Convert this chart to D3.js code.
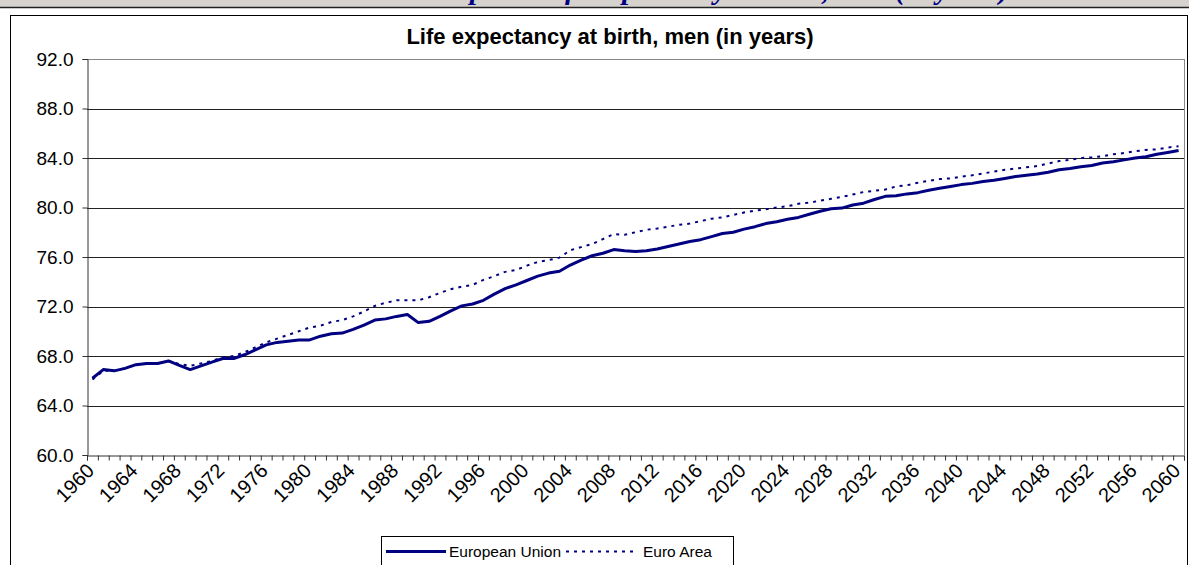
<!DOCTYPE html>
<html>
<head>
<meta charset="utf-8">
<script src="https://cdn.jsdelivr.net/npm/d3@7"></script>
<style>
  html, body { margin: 0; padding: 0; background: #fff; }
  svg { display: block; font-family: Arial, "Liberation Sans", sans-serif; }
</style>
</head>
<body>
<svg id="chart" width="1189" height="565"></svg>
<script>
// Data
var years = d3.range(1960, 2061);

var europeanUnion = [
  66.2, 66.9, 66.8, 67.0, 67.3, 67.4, 67.4, 67.6, 67.25, 66.9,
  67.2, 67.5, 67.8, 67.8, 68.1, 68.5, 68.9, 69.1, 69.2, 69.3,
  69.3, 69.6, 69.8, 69.85, 70.15, 70.5, 70.9, 71.0, 71.2, 71.35,
  70.7, 70.8, 71.2, 71.65, 72.05, 72.2, 72.5, 73.0, 73.45, 73.75,
  74.1, 74.45, 74.7, 74.85, 75.35, 75.75, 76.1, 76.3, 76.6, 76.5,
  76.45, 76.5, 76.65, 76.85, 77.05, 77.25, 77.4, 77.65, 77.9, 78.0,
  78.25, 78.45, 78.7, 78.85, 79.05, 79.2, 79.45, 79.7, 79.9, 79.95,
  80.2, 80.35, 80.65, 80.9, 80.95, 81.1, 81.2, 81.4, 81.55, 81.7,
  81.85, 81.95, 82.1, 82.2, 82.35, 82.5, 82.6, 82.7, 82.85, 83.05,
  83.15, 83.3, 83.4, 83.6, 83.7, 83.85, 84.0, 84.1, 84.3, 84.45,
  84.6
];

var euroArea = [
  66.1, 66.8, 66.8, 67.0, 67.3, 67.4, 67.4, 67.6, 67.35, 67.2,
  67.4, 67.6, 67.9, 68.0, 68.3, 68.7, 69.1, 69.4, 69.7, 70.0,
  70.3, 70.45, 70.75, 70.9, 71.2, 71.6, 72.05, 72.3, 72.5, 72.5,
  72.5, 72.75, 73.1, 73.4, 73.6, 73.75, 74.15, 74.45, 74.8, 74.95,
  75.3, 75.6, 75.75, 75.95, 76.55, 76.8, 77.05, 77.45, 77.85, 77.8,
  78.0, 78.2, 78.3, 78.45, 78.6, 78.7, 78.9, 79.1, 79.2, 79.4,
  79.6, 79.75, 79.85, 80.0, 80.1, 80.3, 80.4, 80.55, 80.7, 80.85,
  81.05, 81.25, 81.35, 81.45, 81.7, 81.8, 82.0, 82.15, 82.3, 82.35,
  82.5, 82.6, 82.75, 82.9, 83.05, 83.15, 83.25, 83.35, 83.55, 83.75,
  83.85, 84.0, 84.05, 84.15, 84.3, 84.4, 84.55, 84.65, 84.7, 84.85,
  84.95
];

var yTicks = [60, 64, 68, 72, 76, 80, 84, 88, 92];
var xLabelYears = years.filter(function(d) { return (d - 1960) % 4 === 0; });

var seriesNames = ["European Union", "Euro Area"];

// Layout
var svg = d3.select("#chart");
var plot = {left: 87, right: 1184, top: 59, bottom: 455};
var navy = "#000080";

// Top strip (page heading, cut off by the crop)
svg.append("rect")
    .attr("x", 0).attr("y", 0)
    .attr("width", 1189).attr("height", 7)
    .attr("fill", "#d6d3ce");
svg.append("text")
    .attr("x", 716).attr("y", -1)
    .attr("text-anchor", "middle")
    .style("font-family", "'Liberation Serif', 'DejaVu Serif', serif")
    .style("font-weight", "bold")
    .style("font-style", "italic")
    .style("font-size", "29px")
    .attr("fill", navy)
    .text("Graph 4: Life expectancy at birth, men (in years)");
svg.append("line")
    .attr("x1", 0).attr("x2", 1189)
    .attr("y1", 7.5).attr("y2", 7.5)
    .attr("stroke", "#222").attr("stroke-width", 1.5);

// Chart area border
svg.append("rect")
    .attr("x", 10.5).attr("y", 15.5)
    .attr("width", 1177).attr("height", 600)
    .attr("fill", "#fff")
    .attr("stroke", "#000");

// Title
svg.append("text")
    .attr("x", 610).attr("y", 44)
    .attr("text-anchor", "middle")
    .style("font-weight", "bold")
    .style("font-size", "22px")
    .text("Life expectancy at birth, men (in years)");

// Scales
var x = d3.scaleLinear()
    .domain([1959.5, 2060.5])
    .range([plot.left, plot.right]);

var y = d3.scaleLinear()
    .domain([60, 92])
    .range([plot.bottom, plot.top]);

// Gridlines
svg.append("g")
    .selectAll("line")
    .data(yTicks.slice(1))
    .enter()
    .append("line")
    .attr("x1", plot.left).attr("x2", plot.right)
    .attr("y1", (d) => Math.round(y(d)) + 0.5)
    .attr("y2", (d) => Math.round(y(d)) + 0.5)
    .attr("stroke", (d) => d === 92 ? "#888" : "#222");

// Right border of plot area
svg.append("line")
    .attr("x1", plot.right + 0.5).attr("x2", plot.right + 0.5)
    .attr("y1", plot.top).attr("y2", plot.bottom)
    .attr("stroke", "#888");

// Y axis
var yAxis = svg.append("g")
    .attr("transform", "translate(" + (plot.left + 0.5) + ",0)")
    .call(d3.axisLeft(y).tickValues(yTicks).tickSize(5).tickPadding(9)
        .tickFormat(d3.format(".1f")));
yAxis.select(".domain").attr("stroke", "#333");
yAxis.selectAll(".tick line").attr("stroke", "#333");
yAxis.selectAll("text")
    .style("font-size", "19px")
    .style("font-family", "Arial, 'Liberation Sans', sans-serif")
    .attr("fill", "#000");

// X axis: tick marks between categories
var xAxis = svg.append("g")
    .attr("transform", "translate(0," + (plot.bottom + 0.5) + ")")
    .call(d3.axisBottom(x)
        .tickValues(years.map((d) => d - 0.5).concat([2060.5]))
        .tickSize(5)
        .tickFormat(""));
xAxis.select(".domain").attr("stroke", "#333");
xAxis.selectAll(".tick line").attr("stroke", "#333");

// X labels every 4 years, rotated
svg.append("g")
    .selectAll("text")
    .data(xLabelYears)
    .enter()
    .append("text")
    .attr("transform", (d) => "translate(" + (x(d) - 2) + "," + (plot.bottom + 12) + ") rotate(-45)")
    .attr("text-anchor", "end")
    .attr("dy", "0.35em")
    .style("font-size", "20px")
    .text((d) => d);

// Lines
var line = d3.line()
    .x((d, i) => x(years[i]))
    .y((d) => y(d));

svg.append("path")
    .datum(euroArea)
    .attr("fill", "none")
    .attr("stroke", navy)
    .attr("stroke-width", 2)
    .attr("stroke-dasharray", "3,5")
    .attr("d", line);

svg.append("path")
    .datum(europeanUnion)
    .attr("fill", "none")
    .attr("stroke", navy)
    .attr("stroke-width", 3)
    .attr("stroke-linejoin", "round")
    .attr("d", line);

// Legend
var legend = svg.append("g");
legend.append("rect")
    .attr("x", 381.5).attr("y", 536.5)
    .attr("width", 352).attr("height", 40)
    .attr("fill", "#fff")
    .attr("stroke", "#000");
legend.append("line")
    .attr("x1", 386).attr("x2", 446)
    .attr("y1", 551.5).attr("y2", 551.5)
    .attr("stroke", navy).attr("stroke-width", 3);
legend.append("text")
    .attr("x", 449).attr("y", 557)
    .style("font-size", "15.5px")
    .text(seriesNames[0]);
legend.append("line")
    .attr("x1", 566).attr("x2", 638)
    .attr("y1", 551.5).attr("y2", 551.5)
    .attr("stroke", navy).attr("stroke-width", 2)
    .attr("stroke-dasharray", "3,5");
legend.append("text")
    .attr("x", 643).attr("y", 557)
    .style("font-size", "15.5px")
    .text(seriesNames[1]);
</script>
</body>
</html>
